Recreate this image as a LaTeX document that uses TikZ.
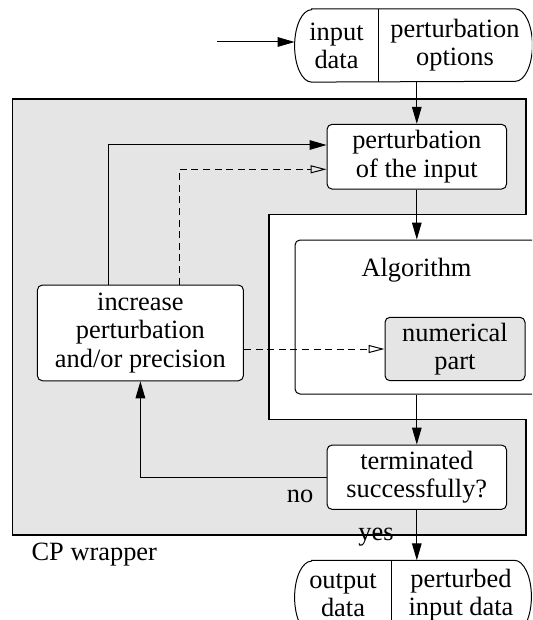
\documentclass[tikz,border=0pt]{standalone}
\usepackage{fontspec}
\setmainfont{Liberation Serif}
\usetikzlibrary{arrows.meta,calc}
\definecolor{cpgrey}{gray}{0.9}
\begin{document}
\begin{tikzpicture}[x=0.5pt,y=-0.5pt,
  every node/.style={font=\fontsize{13.2}{14.1}\selectfont},
  box/.style={draw, line width=0.5pt, rounded corners=2.5pt, fill=white, align=center, inner sep=0pt},
  arr/.style={line width=0.5pt, -{Triangle[length=8.5pt,width=4.8pt]}},
  darr/.style={line width=0.5pt, dash pattern=on 3.5pt off 2.3pt, -{Triangle[open,length=8pt,width=4pt]}},
  plain/.style={line width=0.5pt}]
\path[use as bounding box] (0,0) rectangle (532,620);
\clip (0,0) rectangle (532,620);
% CP wrapper frame
\draw[line width=0.6pt, fill=cpgrey] (12.6,99) -- (526,99) -- (526,214.3) -- (269,214.3) -- (269,419.3) -- (526,419.3) -- (526,535) -- (12.6,535) -- cycle;
% Algorithm box
\node[box, minimum width=127.5pt, minimum height=77pt] (algo) at (422.5,317) {};
\node[anchor=base] (algoname) at (416.5,276.7) {Algorithm};
\node[box, fill=cpgrey, minimum width=70pt, minimum height=31.7pt] (num) at (455,349) {numerical\\part};
\node[box, minimum width=89.75pt, minimum height=32.35pt] (pert) at (416.8,156.7) {perturbation\\of the input};
\node[box, minimum width=103pt, minimum height=47.85pt] (inc) at (140.4,332.9) {increase\\perturbation\\and/or precision};
\node[box, minimum width=89.75pt, minimum height=32.15pt] (term) at (416.8,477.2) {terminated\\successfully?};
% top split node
\node[minimum width=118.5pt, minimum height=36.2pt, inner sep=0pt] (top) at (413.5,45.5) {};
\draw[plain] ([xshift=8.5pt]top.north west) -- ([xshift=-8.5pt]top.north east)
  arc[start angle=90,end angle=-90,x radius=8.5pt,y radius=18.1pt]
  -- ([xshift=8.5pt]top.south west)
  arc[start angle=270,end angle=90,x radius=8.5pt,y radius=18.1pt] -- cycle;
\coordinate (d1) at (378,0);
\draw[plain] (top.north -| d1) -- (top.south -| d1);
\node[align=center] (inlbl) at (336.5,45.5) {input\\data};
\node[align=center] (polbl) at (455,45.5) {perturbation\\options};
% output split node
\node[minimum width=118pt, minimum height=36.3pt, inner sep=0pt] (out) at (413,597) {};
\draw[plain] ([xshift=8.5pt]out.north west) -- ([xshift=-8.5pt]out.north east)
  arc[start angle=90,end angle=-90,x radius=8.5pt,y radius=18.15pt]
  -- ([xshift=8.5pt]out.south west)
  arc[start angle=270,end angle=90,x radius=8.5pt,y radius=18.15pt] -- cycle;
\coordinate (d2) at (391,0);
\draw[plain] (out.north -| d2) -- (out.south -| d2);
\node[align=center] (outlbl) at (343,595) {output\\data};
\node[align=center] (pidlbl) at (461,595) {perturbed\\input data};
% connectors
\coordinate (src) at (217,42);
\draw[arr] (src) -- (src -| top.west);
\draw[arr] (top.south -| pert.north) -- (pert.north);
\draw[arr] (pert.south) -- (pert.south |- algo.north);
\draw[arr] (algo.south -| term.north) -- (term.north);
\draw[arr] (term.south) -- (term.south |- out.north);
\draw[arr] (term.west) -| (inc.south);
\draw[arr] ($(inc.north west)!0.3466!(inc.north east)$) |- ([yshift=5.85pt]pert.west);
\draw[darr] ($(inc.north west)!0.687!(inc.north east)$) |- ([yshift=-6.3pt]pert.west);
\draw[darr] (inc.east |- num.west) -- (num.west);
% labels
\node[anchor=base] (no) at (300,502) {no};
\node[anchor=base] (yes) at (376,540) {yes};
\node[anchor=base] (cpw) at (94.3,560) {CP wrapper};
\end{tikzpicture}
\end{document}
